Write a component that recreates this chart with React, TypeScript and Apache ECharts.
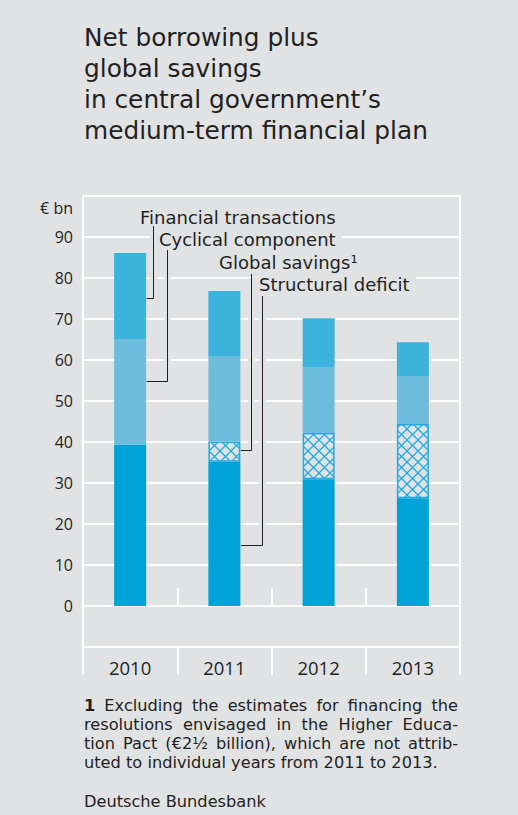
import React, { useEffect, useRef } from "react";
import * as echarts from "echarts";

// ---------- data ----------
const years = ["2010", "2011", "2012", "2013"];
const structuralDeficit = [39.3, 35.2, 30.9, 26.3];
const globalSavings: (number | null)[] = [null, 4.9, 11.3, 18.1];
const cyclicalComponent = [25.8, 20.9, 16.1, 11.7];
const financialTransactions = [21.0, 15.8, 11.9, 8.2];

const titleLines = [
  "Net borrowing plus",
  "global savings",
  "in central government\u2019s",
  "medium-term financial plan",
];
const unitLabel = "\u20ac bn";
const legendLabels = [
  "Financial transactions",
  "Cyclical component",
  "Global savings\u00b9",
  "Structural deficit",
];
// where each leader line meets its bar: [year, value]
const legendTargetYears = ["2010", "2010", "2011", "2011"];
const legendTargetValues = [75.1, 55, 38, 15];

const footnoteLines = [
  "1 Excluding the estimates for financing the",
  "resolutions envisaged in the Higher Educa-",
  "tion Pact (\u20ac2\u00bd billion), which are not attrib-",
  "uted to individual years from 2011 to 2013.",
];
const sourceText = "Deutsche Bundesbank";

// ---------- layout / style ----------
const W = 518;
const H = 815;
const BG = "#e1e2e4";
const INK = "#231f20";
const FONT = '"Open Sans", "Noto Sans", sans-serif';
const TFONT = '"DejaVu Sans", "Open Sans", sans-serif';
const BAR_W = 32;
const LABEL_PAD = 6;
const legendLayout = [
  { x: 140, y: 217, dx: 7, top: 226 },
  { x: 159, y: 239, dx: 20.5, top: 250 },
  { x: 219, y: 262, dx: 10.5, top: 274 },
  { x: 259, y: 284, dx: 22, top: 296 },
];

export default function App() {
  const ref = useRef<HTMLDivElement>(null);

  useEffect(() => {
    const el = ref.current;
    if (!el) return;
    const chart = echarts.init(el, null, { renderer: "svg", width: W, height: H });

    // cross-hatch tile
    const tile = document.createElement("canvas");
    tile.width = 11;
    tile.height = 11;
    const tctx = tile.getContext("2d")!;
    tctx.fillStyle = BG;
    tctx.fillRect(0, 0, 11, 11);
    tctx.strokeStyle = "#22abe2";
    tctx.lineWidth = 1.3;
    tctx.beginPath();
    tctx.moveTo(0, 0);
    tctx.lineTo(11, 11);
    tctx.moveTo(11, 0);
    tctx.lineTo(0, 11);
    tctx.stroke();
    const hatch: any = { image: tile, repeat: "repeat", imageWidth: 11, imageHeight: 11 };

    const barBase = {
      type: "bar" as const,
      stack: "total",
      barWidth: BAR_W,
      xAxisIndex: 0,
      yAxisIndex: 0,
      silent: true,
    };

    const option: any = {
      animation: false,
      backgroundColor: BG,
      grid: {
        left: 83,
        right: W - 460,
        top: 196,
        bottom: H - 647,
        show: true,
        borderColor: "#ffffff",
        borderWidth: 2,
        backgroundColor: "transparent",
      },
      xAxis: [
        {
          type: "category",
          data: years,
          position: "bottom",
          axisLine: { show: true, lineStyle: { color: "#ffffff", width: 2 } },
          axisTick: { show: true, inside: true, length: 18, lineStyle: { color: "#ffffff", width: 2 } },
          axisLabel: { color: INK, fontSize: 18.5, fontFamily: FONT, margin: 11, lineHeight: 18 },
          splitLine: { show: false },
        },
        {
          type: "category",
          data: years,
          position: "bottom",
          axisLine: { show: false },
          axisTick: { show: true, inside: false, length: 28, lineStyle: { color: "#ffffff", width: 2 } },
          axisLabel: { show: false },
          splitLine: { show: false },
        },
      ],
      yAxis: {
        type: "value",
        min: -10,
        max: 100,
        interval: 10,
        axisLine: { show: false },
        axisTick: { show: false },
        axisLabel: {
          color: INK,
          fontSize: 16,
          fontFamily: FONT,
          margin: 10,
          lineHeight: 16,
          formatter: (v: number) => (v >= 0 && v <= 90 ? String(v) : ""),
        },
        splitLine: { show: true, lineStyle: { color: "#ffffff", width: 2 } },
      },
      series: [
        { ...barBase, name: "Structural deficit", data: structuralDeficit, itemStyle: { color: "#00a3d8" } },
        {
          ...barBase,
          name: "Global savings",
          data: globalSavings,
          itemStyle: { color: hatch, borderColor: "#22abe2", borderWidth: 1.5 },
        },
        { ...barBase, name: "Cyclical component", data: cyclicalComponent, itemStyle: { color: "#6dbcdc" } },
        { ...barBase, name: "Financial transactions", data: financialTransactions, itemStyle: { color: "#3bb3dd" } },
      ],
    };
    chart.setOption(option);

    // ---- annotations ----
    const graphics: any[] = [];
    const textStyle = (
      text: string,
      size: number,
      align: string,
      lineHeight: number,
      family: string,
      extra: any = {}
    ) => ({
      text,
      fontSize: size,
      fontFamily: family,
      fill: INK,
      lineHeight,
      align,
      verticalAlign: "middle",
      textAlign: align,
      textVerticalAlign: "middle",
      ...extra,
    });

    titleLines.forEach((t, i) => {
      graphics.push({
        type: "text",
        x: 84,
        y: 37 + i * 31.2,
        z: 100,
        style: textStyle(t, 24.8, "left", 29, TFONT),
      });
    });
    graphics.push({ type: "text", x: 73, y: 208, z: 100, style: textStyle(unitLabel, 16, "right", 16, FONT) });

    legendLabels.forEach((label, i) => {
      const L = legendLayout[i];
      const ci = years.indexOf(legendTargetYears[i]);
      const p = chart.convertToPixel({ gridIndex: 0 } as any, [ci, legendTargetValues[i]]) as number[];
      const barRight = p[0] + BAR_W / 2;
      const vx = Math.round(barRight + L.dx) + 0.5;
      const hy = Math.round(p[1]) + 0.5;
      graphics.push({
        type: "text",
        x: L.x - LABEL_PAD,
        y: L.y,
        z: 100 + i,
        style: textStyle(label, 18, "left", 20, TFONT, {
          backgroundColor: BG,
          padding: [0, LABEL_PAD, 0, LABEL_PAD],
        }),
      });
      graphics.push({
        type: "line",
        z: 110,
        shape: { x1: vx, y1: L.top + 4, x2: vx, y2: hy - 4 },
        style: { stroke: BG, lineWidth: 7 },
      });
      graphics.push({
        type: "polyline",
        z: 111,
        shape: {
          points: [
            [vx, L.top],
            [vx, hy],
            [barRight + 0.5, hy],
          ],
        },
        style: { stroke: INK, lineWidth: 1, fill: null },
      });
    });

    // footnote, justified
    const FN_SIZE = 16.2;
    const FN_LEAD = 19;
    const mc = document.createElement("canvas").getContext("2d")!;
    const measure = (s: string, bold: boolean) => {
      mc.font = `${bold ? "bold " : ""}${FN_SIZE}px ${TFONT}`;
      return mc.measureText(s).width;
    };
    const FN_X = 84;
    const FN_W = 374;
    footnoteLines.forEach((line, i) => {
      const y = 705 + i * FN_LEAD;
      const words = line.split(" ");
      const justify = i < footnoteLines.length - 1;
      const widths = words.map((w, j) => measure(w, i === 0 && j === 0));
      const sum = widths.reduce((a, b) => a + b, 0);
      const spaceW = measure(" ", false);
      const gap = justify ? (FN_W - sum) / (words.length - 1) : spaceW;
      let x = FN_X;
      words.forEach((w, j) => {
        const bold = i === 0 && j === 0;
        graphics.push({
          type: "text",
          x,
          y,
          z: 100,
          style: textStyle(w, FN_SIZE, "left", FN_LEAD - 1, TFONT, { fontWeight: bold ? "bold" : "normal" }),
        });
        x += widths[j] + gap;
      });
    });
    graphics.push({
      type: "text",
      x: FN_X,
      y: 801,
      z: 100,
      style: textStyle(sourceText, FN_SIZE, "left", FN_LEAD - 1, TFONT),
    });

    chart.setOption({ graphic: { elements: graphics } });

    return () => {
      chart.dispose();
    };
  }, []);

  return (
    <div style={{ position: "absolute", left: 0, top: 0, width: W, height: H, background: BG }}>
      <div ref={ref} style={{ width: W, height: H }} />
    </div>
  );
}
